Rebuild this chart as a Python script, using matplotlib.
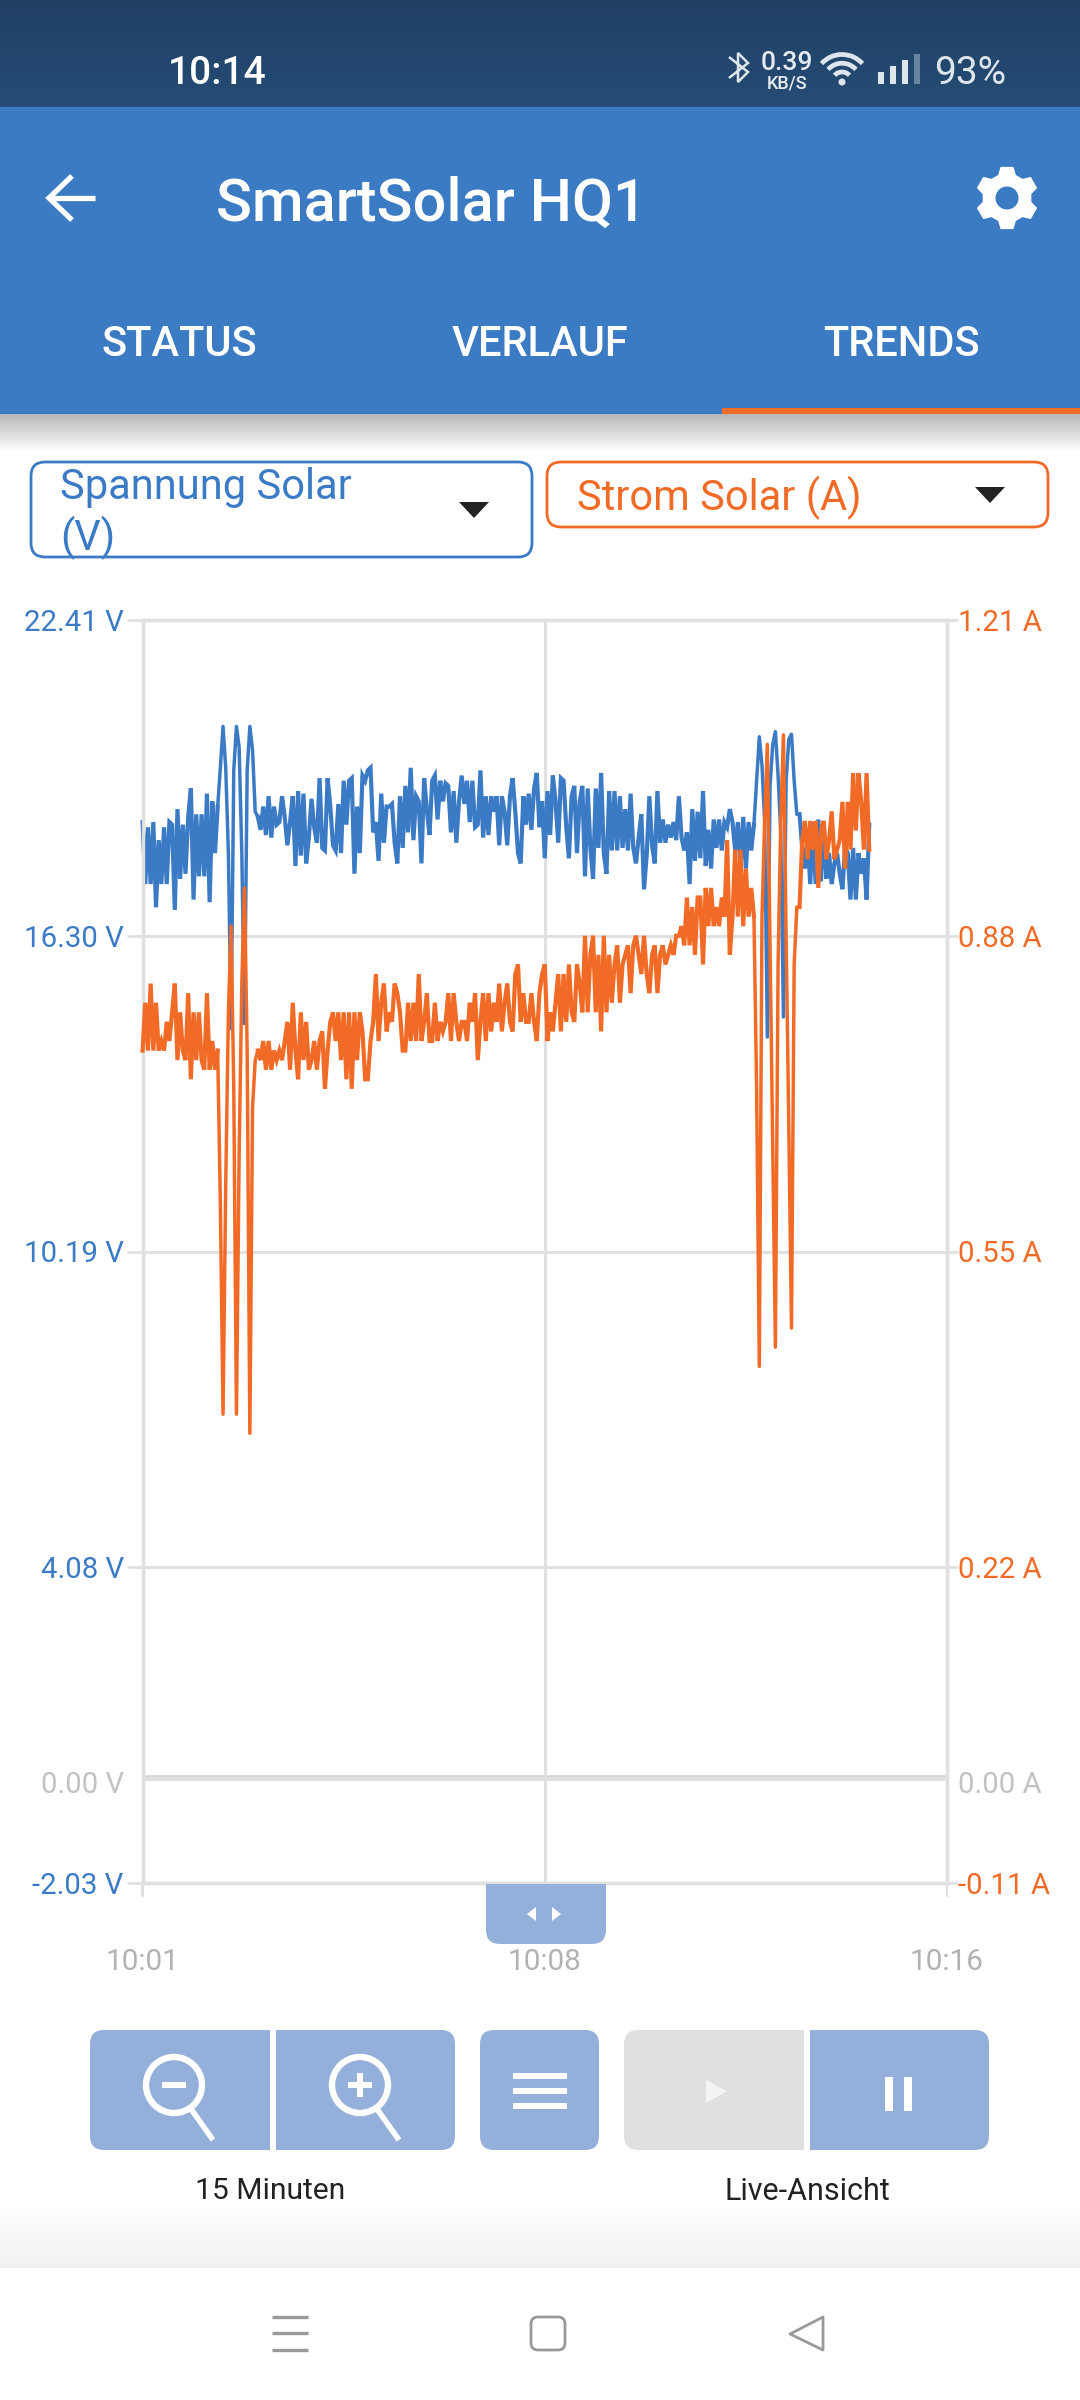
import numpy as np
import matplotlib
matplotlib.use("Agg")
import matplotlib.pyplot as plt
from matplotlib.patches import FancyBboxPatch, Rectangle, Polygon, Circle, Arc
from matplotlib.transforms import ScaledTranslation

plt.rcParams['font.family'] = ['Roboto', 'DejaVu Sans']

# solar voltage, one reading every 3 s
voltage = [
    18.5,17.3,18.4,17.3,18.5,16.85,18.15,17.3,18.4,17.3,
    18.5,18.45,16.8,18.75,17.4,18.45,17.5,18.6,19.15,17.0,
    18.65,17.45,18.65,17.45,19.05,16.95,18.9,17.9,18.8,19.55,
    20.35,19.55,17.9,14.5,19.5,20.35,19.95,17.9,14.6,19.5,
    20.35,19.9,18.7,18.6,18.35,18.8,18.25,19.0,18.2,18.8,
    18.45,18.5,19.0,18.6,18.05,18.5,19.0,17.65,19.1,17.85,
    19.05,17.7,18.2,18.95,18.4,18.1,19.35,18.0,17.95,19.35,
    18.8,18.05,17.95,18.85,17.9,19.3,18.45,19.3,19.35,17.5,
    18.8,17.9,19.4,19.3,19.5,19.55,18.3,18.5,17.75,19.05,
    18.1,18.8,18.8,18.85,18.1,17.7,19.0,18.0,19.2,18.3,
    19.55,18.15,19.0,18.9,17.7,19.35,18.75,18.25,19.3,19.4,
    18.55,19.3,18.9,19.25,19.2,18.3,19.1,18.1,18.9,19.4,
    18.85,19.3,18.5,19.3,18.4,18.45,19.5,18.2,19.0,18.25,
    19.0,18.7,19.0,18.05,19.0,18.7,18.05,19.0,19.35,18.7,
    17.9,17.7,19.0,18.45,19.05,18.35,19.15,19.45,18.4,18.9,
    17.8,19.1,18.25,19.4,18.9,18.1,19.35,19.3,18.4,17.8,
    19.0,19.2,17.9,18.9,19.2,17.45,19.15,18.0,17.4,19.15,
    18.0,19.45,17.9,17.5,19.1,17.95,19.1,17.95,19.0,18.0,
    18.75,17.95,19.05,18.0,17.7,18.2,18.65,17.2,17.85,19.0,
    18.05,17.7,19.1,18.1,18.55,18.1,18.45,18.2,18.5,18.15,
    19.0,18.2,17.95,18.3,17.3,18.75,17.75,18.7,17.8,19.1,
    17.65,18.35,17.6,18.55,18.0,18.55,17.95,18.5,18.4,18.75,
    18.5,17.95,18.5,17.6,18.6,17.6,18.5,17.95,18.45,19.3,
    20.15,19.6,18.5,14.34,19.2,20.0,20.25,19.4,18.3,14.73,
    19.3,20.1,20.2,19.3,18.65,18.65,18.0,17.6,18.2,17.3,
    18.5,17.3,18.55,17.35,18.5,17.4,17.9,17.3,17.7,17.9,
    17.5,17.2,18.0,17.9,17.0,18.0,17.0,17.9,17.5,17.8,17.0,18.45,
]

# solar current, same readings
current = [
    .76,.81,.76,.83,.76,.81,.76,.77,.76,.79,
    .77,.80,.83,.75,.80,.76,.75,.82,.73,.80,
    .75,.80,.75,.74,.82,.74,.77,.74,.76,.60,
    .38,.62,.80,.89,.72,.38,.65,.83,.93,.76,
    .36,.70,.75,.76,.75,.77,.74,.77,.74,.76,
    .75,.76,.75,.77,.79,.74,.81,.76,.73,.80,
    .75,.79,.74,.75,.77,.74,.77,.78,.72,.76,
    .79,.80,.77,.80,.75,.80,.73,.80,.72,.80,
    .75,.80,.78,.73,.73,.77,.79,.84,.77,.81,
    .83,.78,.80,.79,.83,.82,.80,.76,.76,.81,
    .77,.81,.77,.84,.77,.79,.82,.77,.77,.81,
    .77,.79,.78,.79,.82,.77,.82,.79,.77,.79,
    .79,.77,.81,.79,.82,.75,.79,.82,.77,.82,
    .78,.81,.79,.83,.78,.81,.83,.79,.78,.84,
    .85,.79,.82,.79,.79,.82,.79,.77,.82,.84,
    .85,.77,.80,.78,.81,.84,.78,.84,.79,.85,
    .80,.79,.85,.83,.80,.88,.80,.86,.88,.80,
    .86,.78,.88,.80,.86,.81,.85,.87,.81,.85,
    .86,.87,.82,.87,.88,.86,.84,.88,.84,.82,
    .86,.87,.82,.86,.87,.85,.86,.87,.86,.88,
    .88,.89,.87,.92,.87,.91,.86,.92,.92,.85,
    .93,.89,.93,.89,.91,.89,.92,.90,.98,.86,
    .90,.97,.90,.97,.89,.95,.90,.93,.90,.72,
    .43,.90,1.0,1.08,.87,.66,.45,.85,1.0,1.09,
    .88,.68,.47,.85,.91,.91,.98,1.0,.96,1.0,
    .97,1.0,.93,.99,1.0,.96,.98,1.01,.96,.97,
    .98,1.02,.95,1.02,.97,1.05,.99,1.05,1.02,.97,1.05,.97,
]

volt_ticks = [-2.03, 0.0, 4.08, 10.19, 16.30, 22.41]
volt_labels = ['-2.03 V', '0.00 V', '4.08 V', '10.19 V', '16.30 V', '22.41 V']
amp_ticks = [-0.11, 0.0, 0.22, 0.55, 0.88, 1.21]
amp_labels = ['-0.11 A', '0.00 A', '0.22 A', '0.55 A', '0.88 A', '1.21 A']
time_ticks = [0, 7.5, 15]
time_labels = ['10:01', '10:08', '10:16']

# the noisy stretches draw heavier than the two pulse groups
noise_parts = [(0, 29), (43, 229), (245, 272)]
pulse_parts = [(28, 44), (228, 246)]

BLUE = '#3b7bc6'
ORANGE = '#f26b26'
HEADER = '#3b7bc4'
BUTTON = '#94b0da'
GRID = '#e0e0e0'
W, H = 1080, 2400

minutes = np.arange(len(voltage)) * 3 / 60

fig = plt.figure(figsize=(W / 100, H / 100), dpi=100, facecolor='white')

# chart
ax = fig.add_axes([142.6 / W, 1 - 1883 / H, 804.4 / W, 1263 / H], zorder=1)
ax2 = ax.twinx()
ax2.set_zorder(2)
ax2.patch.set_visible(False)


def trace(axis, values, color):
    values = np.array(values)
    for a, b in noise_parts:
        axis.plot(minutes[a:b], values[a:b], color=color, lw=3.0, solid_joinstyle='miter', clip_on=False, zorder=5)
    for a, b in pulse_parts:
        axis.plot(minutes[a:b], values[a:b], color=color, lw=2.5, solid_joinstyle='round', clip_on=False, zorder=5)


trace(ax, voltage, BLUE)
trace(ax2, current, ORANGE)

ax.set_xlim(0, 15)
ax.set_ylim(-2.03, 22.41)
ax2.set_ylim(-0.11, 1.21)
ax.set_xticks(time_ticks, time_labels)
ax.set_yticks(volt_ticks, volt_labels)
ax2.set_yticks(amp_ticks, amp_labels)

ax.tick_params(axis='x', length=0, pad=47, labelsize=21.4, labelcolor='#b2b2b2')
ax.tick_params(axis='y', length=11.5, width=2, color=GRID, pad=2, labelsize=21.2)
ax2.tick_params(axis='y', length=8, width=2, color=GRID, pad=0, labelsize=21.2)
ax.xaxis.grid(True, color=GRID, lw=2.2)
ax.yaxis.grid(True, color=GRID, lw=2.2)

for sp in list(ax.spines.values()) + list(ax2.spines.values()):
    sp.set_color(GRID)
    sp.set_linewidth(2.4)
ax.axhline(0, color='#d4d4d4', lw=4, zorder=1)

# the zero line has a grey label a little lower and no stub
shift = ScaledTranslation(0, -4 / 100, fig.dpi_scale_trans)
for axis, vals, col in [(ax, volt_ticks, BLUE), (ax2, amp_ticks, ORANGE)]:
    for tick, val in zip(axis.yaxis.get_major_ticks(), vals):
        for lab in (tick.label1, tick.label2):
            lab.set_color('#c2c2c2' if val == 0 else col)
            if val == 0:
                lab.set_transform(lab.get_transform() + shift)
        if val == 0:
            tick.tick1line.set_visible(False)
            tick.tick2line.set_visible(False)

# everything around the chart, in screen pixels
ui = fig.add_axes([0, 0, 1, 1], zorder=3)
ui.patch.set_visible(False)
ui.axis('off')


def rect(x0, y0, x1, y1, color, z=2):
    ui.add_patch(Rectangle((x0, y0), x1 - x0, y1 - y0, fc=color, ec='none', zorder=z))


def rounded(x0, y0, x1, y1, r, fc, ec='none', lw=0, z=2):
    ui.add_patch(FancyBboxPatch((x0, y0), x1 - x0, y1 - y0, boxstyle=f'round,pad=0,rounding_size={r}',
                                fc=fc, ec=ec, lw=lw, zorder=z))


def gradient(x0, y0, x1, y1, top, bottom):
    ramp = np.linspace(top, bottom, 64)[:, None, :]
    ui.imshow(ramp, extent=(x0, x1, y1, y0), aspect='auto', zorder=1, interpolation='bilinear')


def label(x, y, s, size, color, ha='center', weight='normal'):
    ui.text(x, y, s, fontsize=size, color=color, ha=ha, va='center_baseline', fontweight=weight, zorder=6)


def line(xs, ys, color='white', lw=3, cap='butt', z=5):
    ui.plot(xs, ys, color=color, lw=lw, solid_capstyle=cap, solid_joinstyle='miter', zorder=z)


# status bar and header
gradient(0, 0, W, 107, (0.125, 0.25, 0.39), (0.145, 0.30, 0.46))
rect(0, 107, W, 414, HEADER)
rect(722, 408, W, 414, ORANGE, z=3)
gradient(0, 414, W, 452, (0.72, 0.72, 0.72), (1, 1, 1))

label(217, 69, '10:14', 28, 'white', weight=500)
label(787, 61, '0.39', 19, '#e6ebf1', weight=500)
label(787, 81, 'KB/S', 13, '#e6ebf1', weight=500)
label(970, 70, '93%', 28, '#dfe5ec')

# bluetooth
line([729, 748, 738, 738, 748, 729], [57, 72, 82, 53, 63, 78], '#dfe5ec', 1.8)
# wifi
for r in (16, 30, 44):
    ui.add_patch(Arc((842, 82), r * 1.25, r * 1.25, theta1=222, theta2=318, ec='#dfe5ec', lw=3.4, zorder=5))
ui.add_patch(Circle((842, 82), 3.5, fc='#dfe5ec', ec='none', zorder=5))
# signal
for x0, y0, c in [(878, 72, '#dfe5ec'), (890, 66, '#dfe5ec'), (902, 60, '#dfe5ec'), (914, 54, '#6a839e')]:
    rect(x0, y0, x0 + 6, 84, c, z=5)

label(431, 198, 'SmartSolar HQ1', 42.8, 'white', weight=500)
line([72, 49, 72], [176, 198, 220], lw=3.8)
line([49, 95], [198, 198], lw=3.8)

# gear
ang = np.deg2rad(np.arange(0, 360, 60))
pts = []
for a in ang:
    for da, rad in [(-20, 24), (-11, 31), (11, 31), (20, 24)]:
        t = a + np.deg2rad(da) - np.pi / 2
        pts.append((1007 + rad * np.cos(t), 198 + rad * np.sin(t)))
ui.add_patch(Polygon(pts, closed=True, fc='white', ec='white', lw=1, joinstyle='round', zorder=5))
ui.add_patch(Circle((1007, 198), 11.5, fc=HEADER, ec='none', zorder=6))

label(179, 340, 'STATUS', 30, 'white', weight=500)
label(540, 340, 'VERLAUF', 30, 'white', weight=500)
label(901, 340, 'TRENDS', 30, 'white', weight=500)

# dropdowns
rounded(31, 462, 532, 557, 14, 'white', BLUE, 2.0)
rounded(547, 462, 1048, 527, 14, 'white', ORANGE, 2.0)
label(60, 483, 'Spannung Solar', 30, BLUE, ha='left')
label(60, 533, '(V)', 30, BLUE, ha='left')
label(577, 493, 'Strom Solar (A)', 30, ORANGE, ha='left')
ui.add_patch(Polygon([(459, 502), (489, 502), (474, 518)], fc='#222222', ec='none', zorder=5))
ui.add_patch(Polygon([(975, 487), (1005, 487), (990, 503)], fc='#222222', ec='none', zorder=5))

# axis stubs under the plot and the drag handle
rect(141.4, 1883, 143.8, 1897, GRID)
rect(945.8, 1883, 948.2, 1897, GRID)
rounded(486, 1884, 606, 1944, 14, BUTTON, z=4)
rect(486, 1884, 606, 1910, BUTTON, z=4)
ui.add_patch(Polygon([(536, 1907), (536, 1921), (527, 1914)], fc='white', ec='none', zorder=5))
ui.add_patch(Polygon([(552, 1907), (552, 1921), (561, 1914)], fc='white', ec='none', zorder=5))

# buttons
rounded(90, 2030, 455, 2150, 14, BUTTON)
rect(270, 2030, 276, 2150, 'white', z=3)
rounded(480, 2030, 599, 2150, 14, BUTTON)
rounded(624, 2030, 790, 2150, 14, '#e0e0e0')
rect(700, 2030, 804, 2150, '#e0e0e0')
rounded(810, 2030, 989, 2150, 14, BUTTON)
rect(810, 2030, 900, 2150, BUTTON)

for cx in (174, 360):
    ui.add_patch(Circle((cx, 2085), 28, fc='none', ec='white', lw=4.6, zorder=5))
    line([cx + 17, cx + 39], [2109, 2140], lw=4)
    line([cx - 12, cx + 12], [2085, 2085], lw=4.4)
line([360, 360], [2073, 2097], lw=4.4)

for y in (2076, 2091, 2106):
    rect(513, y - 3, 567, y + 3, 'white', z=5)
ui.add_patch(Polygon([(706, 2080), (706, 2103), (727, 2091.5)], fc='#f4f4f4', ec='none', zorder=5))
rect(885, 2077, 893, 2111, 'white', z=5)
rect(904, 2077, 912, 2111, 'white', z=5)

label(270, 2188, '15 Minuten', 21.6, '#222222')
label(807, 2188, 'Live-Ansicht', 22, '#222222')

# bottom navigation
gradient(0, 2205, W, 2268, (1, 1, 1), (0.945, 0.945, 0.945))
for y in (2317, 2333, 2350):
    line([272, 308], [y, y], '#999999', 2.4)
rounded(531, 2317, 565, 2350, 7, 'none', '#999999', 2.0, z=5)
ui.add_patch(Polygon([(823, 2317), (790, 2334), (823, 2350)], closed=True, fc='none', ec='#999999', lw=2.0,
                     joinstyle='round', zorder=5))

ui.set_xlim(0, W)
ui.set_ylim(H, 0)

fig.savefig('out.png', dpi=100)
